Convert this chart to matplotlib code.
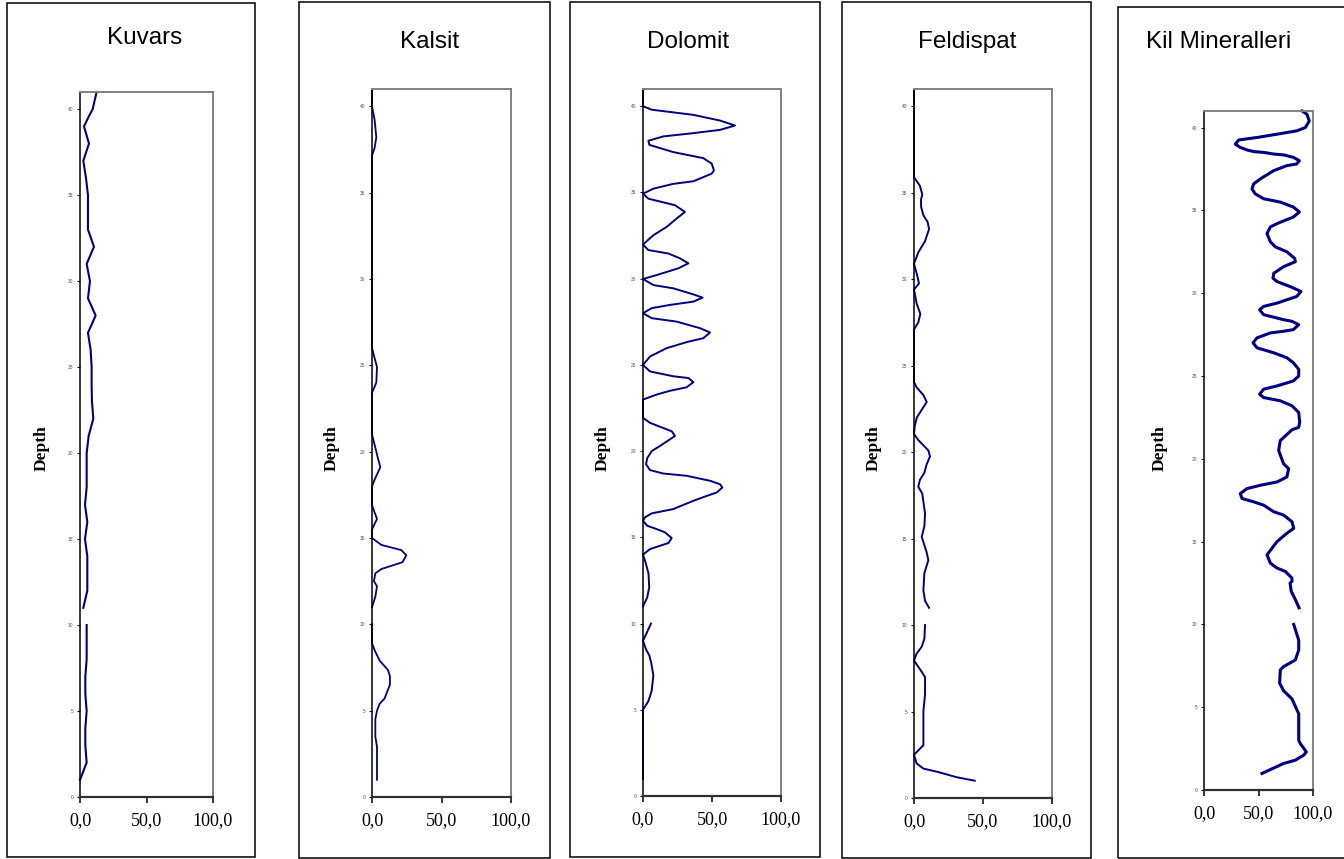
##Mineral logs vs depth (five panels)
import matplotlib.pyplot as plt
from matplotlib.patches import Rectangle
import numpy as np

#figure size in pixels
W = 1344
H = 859
DPI = 100

nan = np.nan

##data (percent vs depth, gap between 10 and 11)
kuvars_depth = [1, 2, 3, 4, 5, 6, 7, 8, 9, 10, 10.5, 11, 12, 13, 14, 15, 16, 17, 18, 19, 20,
                21, 22, 23, 24, 25, 26, 27, 28, 29, 30, 31, 32, 33, 34, 35, 36, 37, 38, 39,
                39.6, 40, 41]
kuvars_val = [0, 5, 4, 4, 5, 4, 4, 5, 5, 5, nan, 2.5, 5.5, 5.5, 5.5, 3.75, 5.5, 3.75, 5, 5, 5,
              6.5, 10, 9, 8.75, 8.75, 8, 6, 11.75, 6, 7.5, 5, 10.5, 6, 6, 6, 4.5, 2.5, 6.75, 3,
              6.75, 9.5, 12.5]

kalsit_depth = [1, 2.9, 3.5, 4.5, 5, 5.4, 5.7, 6.5, 7, 7.35, 7.9, 8.5, 8.9, 10, 10.5, 11, 11.6,
                12.2, 12.5, 12.95, 13.2, 13.6, 14, 14.3, 14.6, 15, 15.5, 16.1, 16.9, 18, 18.4,
                19.1, 19.6, 20, 21, 23.4, 24, 24.9, 25.4, 26, 37.15, 37.6, 38.2, 39.2, 40, 41]
kalsit_val = [3.6, 3.6, 2.4, 2.4, 3.6, 5.5, 9, 12.9, 12.9, 11.5, 5.5, 1.9, 0, 0, nan, 0, 2.4,
              3.6, 1.4, 2.4, 6.7, 22, 24.7, 21, 6.7, 0, 0, 3.6, 0, 0, 2,
              6, 4.3, 3.1, 0, 0, 3.1, 3.6, 1.9, 0, 0, 1.9, 3.1, 1.9, 0, 0]

dolomit_depth = [1, 5, 5.5, 6.1, 7, 7.7, 8.15, 8.5, 9, 10, 10.5, 11, 11.5, 12.1, 12.9, 13.5, 14,
                 14.32, 14.67, 14.96, 15.29, 15.48, 15.67, 15.96, 16.16, 16.39, 16.64, 17.12,
                 17.4, 17.6, 17.89, 18.08, 18.28, 18.57, 18.7, 18.9, 19.24, 19.6, 20, 20.3,
                 20.88, 21.15, 21.64, 21.93, 22.99, 23.28, 23.5, 23.7, 24.0, 24.24, 24.34,
                 24.62, 25.0, 25.49, 25.97, 26.32, 26.55, 26.88, 27.13, 27.51, 27.71, 28.0,
                 28.29, 28.48, 28.67, 28.9, 29.09, 29.44, 29.63, 29.98, 30.21, 30.6, 30.89,
                 31.18, 31.46, 31.66, 31.98, 32.52, 33.0, 33.49, 33.87, 34.26, 34.64, 34.93,
                 35.22, 35.5, 35.65, 36.09, 36.28, 36.67, 36.99, 37.34, 37.76, 38.0, 38.25,
                 38.44, 38.63, 38.88, 39.17, 39.5, 39.8, 40.0, 41]
dolomit_val = [0, 0, 3.9, 6.3, 7.5, 6, 4.6, 2.2, 0, 5.8, nan, 0, 3, 4.5, 4, 2, 0,
               5.1, 18.4, 20.8, 15.9, 9.9, 3.1, 0, 1.4, 6.3, 22, 36.5,
               46.1, 53.4, 57.5, 55.8, 48.6, 31.6, 14.7, 5.1, 2.2, 3.1, 6.3, 12.3,
               23.2, 20.8, 5.1, 0, 0, 9.9, 19.6, 31.6, 36.5, 32.9, 22,
               5.1, 0, 5.1, 17.1, 31.6, 43.7, 48.6, 41.3, 24.4, 6.3, 0,
               6.3, 19.6, 36.5, 43.2, 36.5, 22, 7.5, 0, 9.9, 25.6, 32.9,
               26.8, 18.4, 3.9, 0, 7.5, 17.1, 24.4, 30.4, 23.2, 3.9, 0,
               7.5, 22, 36.5, 49.8, 51.4, 49.8, 43.7, 22, 4.6, 3.9, 14.7,
               36.5, 55.8, 66.7, 55.8, 36.5, 6.3, 0, 0]

feldispat_depth = [1.0, 1.2, 1.5, 1.7, 2.0, 2.5, 3.05, 5.0, 6.0, 7.0, 7.45, 7.95, 8.35, 8.75,
                   9.2, 10.0, 10.5, 11.0, 11.4, 12.0, 13.0, 13.75, 14.2, 15.1, 15.7, 16.45,
                   17.6, 18.0, 18.4, 18.8, 19.3, 19.75, 20.1, 20.7, 21.05, 21.5, 22.0, 22.5,
                   22.9, 23.3, 23.75, 24.05, 27.1, 27.5, 28.0, 28.6, 29.4, 29.6, 29.75, 30.1,
                   30.9, 31.55, 32.2, 32.9, 33.3, 33.7, 34.2, 34.6, 34.9, 35.4, 35.9, 41]
feldispat_val = [44, 31, 17.6, 6.8, 1.9, 0, 6.8, 6.8, 8, 8, 4.3, 0, 1.9, 5.6,
                 7.5, 8, nan, 10.9, 8, 6.8, 7.5, 10.4, 9.2, 5.6, 7.5, 8,
                 6, 3.1, 4.3, 7.5, 9.2, 11.6, 10.4, 3.1, 0, 0.5, 2, 6,
                 9.2, 6.8, 1.9, 0, 0, 3.1, 4.6, 1.9, 0, 2, 3.6, 2.7,
                 0, 3.1, 8, 10.9, 9.9, 6.8, 5.1, 5.1, 6, 4.3, 0, 0]

kil_depth = [1.0, 1.6, 1.8, 2.1, 2.3, 2.8, 3.0, 4.6, 5.5, 6.0, 6.45, 7.25, 7.45, 7.85, 8.45,
             9.05, 10.0, 10.5, 11.0, 11.5, 12.0, 12.5, 12.6, 12.8, 13.2, 13.4, 13.7, 14.2,
             15.0, 15.5, 15.8, 16.2, 16.6, 16.8, 17.2, 17.4, 17.6, 17.9, 18.2, 18.4, 18.6,
             18.9, 19.4, 19.7, 20.5, 21.1, 21.75, 21.9, 22.2, 22.8, 23.2, 23.5, 23.7, 23.9,
             24.2, 24.4, 24.7, 25.0, 25.4, 25.8, 26.1, 26.4, 26.7, 27.0, 27.3, 27.6, 27.7,
             27.8, 28.1, 28.3, 28.4, 28.6, 28.7, 29.0, 29.2, 29.4, 29.8, 30.1, 30.4, 30.7,
             30.9, 31.2, 31.6, 31.9, 32.1, 32.5, 32.8, 33.1, 33.6, 34.0, 34.2, 34.6, 34.9,
             35.2, 35.5, 35.7, 36.0, 36.3, 36.6, 36.9, 37.4, 37.7, 37.8, 38.0, 38.2, 38.35,
             38.4, 38.5, 38.55, 38.65, 38.8, 39.0, 39.25, 39.4, 39.6, 39.8, 40.0, 40.4, 40.8,
             41.0]
kil_val = [53.2, 73, 83.8, 91.4, 93.9, 88.4, 86.9, 86.9, 80.7, 73, 69.4, 70, 73, 83.8, 86.9,
           86.9, 82.3, nan, 87.2, 83.8, 80, 79, 80.7, 80.7, 74.6, 67, 60.9, 57.8,
           67, 76, 82.3, 80.7, 73, 64, 54.7, 45.6, 34.9, 33.3, 39.4, 51.7, 67,
           76, 77.7, 73, 68.5, 70, 80.7, 86.9, 87.8, 86.9, 80.7, 70, 54.7, 51,
           54.7, 67, 82, 86.9, 86.9, 82, 76, 64, 48.6, 45, 48.6, 60.9, 73,
           82, 86.9, 80.7, 73, 60.9, 54.7, 51, 54.7, 67, 85, 89, 79, 67,
           63.3, 64, 73, 83.8, 83.2, 76, 65.4, 60.9, 57.8, 60.9, 67, 82, 87.5,
           82, 70, 54.7, 47, 44, 45.6, 51.7, 64, 76, 85, 87.5, 82, 73,
           64, 54.7, 45.6, 39.4, 33.3, 28.7, 31.8, 48.6, 67, 85, 93, 96.6, 94.5,
           90]

titles = ['Kuvars', 'Kalsit', 'Dolomit', 'Feldispat', 'Kil Mineralleri']
depths = [kuvars_depth, kalsit_depth, dolomit_depth, feldispat_depth, kil_depth]
values = [kuvars_val, kalsit_val, dolomit_val, feldispat_val, kil_val]

x_ticks = [0, 50, 100]
x_ticklabels = ['0,0', '50,0', '100,0']
y_ticks = [0, 5, 10, 15, 20, 25, 30, 35, 40]

##layout in pixels
#plot area: left, right, top, bottom
plot_box = [(80, 213, 92, 797),
            (372, 511, 89, 797),
            (643, 781, 89, 796),
            (914, 1052, 89, 798),
            (1204, 1313, 111, 790)]
#chart frame: left, top, right, bottom
frame_box = [(7, 3, 255, 857),
             (299, 2, 550, 858),
             (570, 2, 820, 857),
             (842, 2, 1091, 858),
             (1118, 7, 1352, 858)]
#title centre (x, y)
title_pos = [(145, 38), (430, 42), (688, 42), (967, 42), (1219, 42)]
#Depth label centre x
depth_x = [42, 332, 603, 874, 1160]
line_w = [1.5, 1.3, 1.4, 1.4, 2.2]

fig = plt.figure(figsize=(W / DPI, H / DPI), dpi=DPI)
fig.patch.set_facecolor('white')

for i in range(5):
    l, r, t, b = plot_box[i]
    ax = fig.add_axes([l / W, 1 - b / H, (r - l) / W, (b - t) / H])
    ax.plot(values[i], depths[i], color='#000080', linewidth=line_w[i],
            solid_joinstyle='round', clip_on=False)

    ax.set_xlim(0, 100)
    ax.set_ylim(0, 41)
    ax.set_xticks(x_ticks)
    ax.set_xticklabels(x_ticklabels, fontfamily='Liberation Serif', fontsize=13)
    ax.set_yticks(y_ticks)
    ax.set_yticklabels([str(v) for v in y_ticks], fontfamily='Liberation Sans',
                       fontsize=3.5, color='#555555')
    ax.tick_params(axis='x', direction='out', length=4, width=1.1, pad=7)
    ax.tick_params(axis='y', direction='out', length=2.5, width=0.8, pad=2.5)

    #black axes, grey plot-area border
    ax.spines['left'].set_color('black')
    ax.spines['bottom'].set_color('black')
    ax.spines['left'].set_linewidth(1.1)
    ax.spines['bottom'].set_linewidth(1.6)
    ax.spines['bottom'].set_color('#303030')
    ax.spines['top'].set_color('#808080')
    ax.spines['right'].set_color('#808080')
    ax.spines['top'].set_linewidth(1.4)
    ax.spines['right'].set_linewidth(1.4)

    #chart frame
    fl, ft, fr, fb = frame_box[i]
    fig.patches.append(Rectangle((fl / W, 1 - fb / H), (fr - fl) / W, (fb - ft) / H,
                                 transform=fig.transFigure, fill=False,
                                 edgecolor='black', linewidth=1.1))

    tx, ty = title_pos[i]
    fig.text(tx / W, 1 - ty / H, titles[i], fontfamily='Liberation Sans', fontsize=17.5,
             ha='center', va='center')
    fig.text(depth_x[i] / W, 1 - 448 / H, 'Depth', fontfamily='Liberation Serif',
             fontweight='bold', fontsize=12.5, rotation=90, ha='center', va='center')

fig.savefig('out.png', dpi=DPI)
